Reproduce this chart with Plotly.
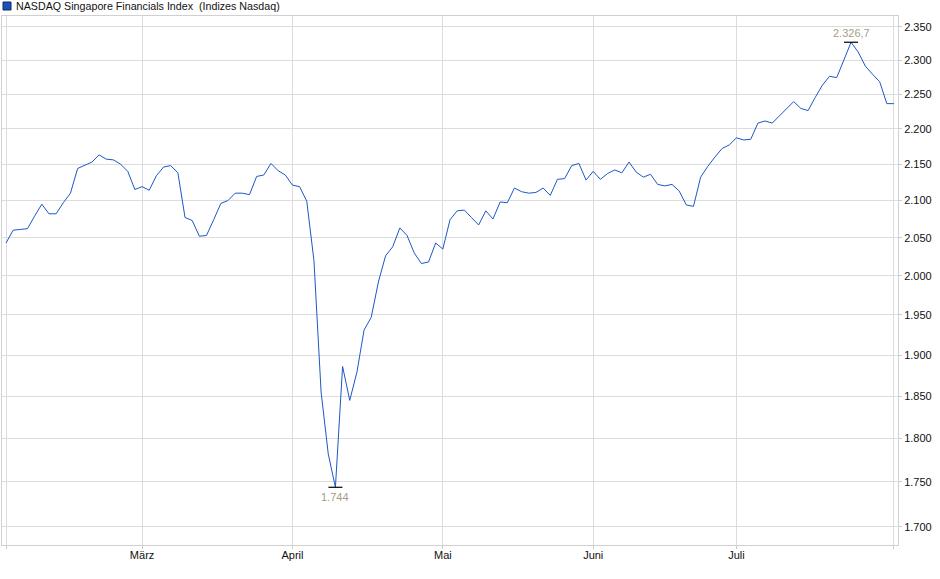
import numpy as np
import pandas as pd
import plotly.graph_objects as go

# trading days (US calendar) shown on the chart
holidays = ["2025-02-17", "2025-04-18", "2025-05-26", "2025-06-19", "2025-07-04"]
dates = pd.bdate_range("2025-02-03", "2025-08-01", freq="C", holidays=holidays)
days = [d.strftime("%Y-%m-%d") for d in dates]

close = [
    2043, 2060, 2061, 2062, 2079, 2095, 2082, 2082, 2097, 2110,
    2144, 2149, 2153, 2163, 2157, 2156, 2150, 2140, 2115, 2119,
    2114, 2134, 2146, 2148, 2138, 2077, 2073, 2052, 2053, 2074,
    2096, 2100, 2110, 2110, 2108, 2133, 2135, 2151, 2141, 2135,
    2121, 2119, 2099, 2020, 1855, 1782, 1744, 1886, 1845, 1879,
    1931, 1947, 1992, 2026, 2038, 2063, 2053, 2030, 2016, 2018,
    2043, 2035, 2074, 2086, 2087, 2077, 2067, 2086, 2075, 2098,
    2097, 2117, 2112, 2110, 2111, 2117, 2107, 2129, 2130, 2148,
    2151, 2128, 2140, 2129, 2137, 2142, 2138, 2153, 2139, 2132,
    2136, 2122, 2120, 2122, 2113, 2094, 2092, 2132, 2147, 2160,
    2172, 2177, 2187, 2184, 2185, 2208, 2211, 2208, 2218, 2228,
    2239, 2229, 2226, 2245, 2263, 2276, 2274, 2300, 2326.7, 2312,
    2291, 2279, 2268, 2236, 2236,
]

month_names = ["März", "April", "Mai", "Juni", "Juli"]
y_ticks = list(range(1700, 2351, 50))

# first trading day of each month from March on
firsts = pd.Series(days, index=dates).groupby(dates.to_period("M")).first()
month_days = list(firsts.values[1:6])

lo = int(np.argmin(close))
hi = int(np.argmax(close))

W, H = 940, 579
ml, mr, mt, mb = 2, 42, 16, 34
pw, ph = W - ml - mr, H - mt - mb

fig = go.Figure()

fig.add_trace(go.Scatter(
    x=days, y=close, mode="lines",
    line=dict(color="#1d58c4", width=1),
    name="NASDAQ Singapore Financials Index",
    hovertemplate="%{x}: %{y}<extra></extra>",
))

# min / max markers
fig.add_trace(go.Scatter(
    x=[days[lo], days[hi]], y=[close[lo], close[hi]], mode="markers",
    marker=dict(symbol="line-ew-open", size=10, color="black",
                line=dict(color="black", width=1.2)),
    hoverinfo="skip",
))

fig.add_annotation(x=days[lo], y=np.log10(close[lo]), text="1.744",
                   showarrow=False, yanchor="top", yshift=-2,
                   font=dict(size=11, color="#a89c88"))
fig.add_annotation(x=days[hi], y=np.log10(close[hi]), text="2.326,7",
                   showarrow=False, yanchor="bottom", yshift=1,
                   font=dict(size=11, color="#a89c88"))

# header: coloured square + title text
fig.add_shape(type="rect", xref="paper", yref="paper",
              x0=(3 - ml) / pw, x1=(11 - ml) / pw,
              y0=1 + (mt - 10) / ph, y1=1 + (mt - 2) / ph,
              fillcolor="#1c4fb8", line=dict(color="#0a2a6a", width=1))
fig.add_annotation(xref="paper", yref="paper", x=(14 - ml) / pw, y=1 + (mt - 6) / ph,
                   xanchor="left", yanchor="middle", showarrow=False,
                   text="NASDAQ Singapore Financials Index  (Indizes Nasdaq)",
                   font=dict(size=10.7, color="#111111"))

fig.update_layout(
    width=W, height=H,
    margin=dict(l=ml, r=mr, t=mt, b=mb),
    paper_bgcolor="white", plot_bgcolor="white",
    showlegend=False,
    separators=",.",
    font=dict(family="Liberation Sans, Arial, sans-serif", size=11, color="#111111"),
)

fig.update_xaxes(
    type="category",
    range=[-0.56, len(days) - 1 + 0.56],
    tickvals=[days[0]] + month_days + [days[-1]],
    ticktext=[""] + month_names + [""],
    ticks="outside", ticklen=3, tickcolor="#cccccc",
    ticklabelstandoff=-3,
    showgrid=True, gridcolor="#dcdcdc", gridwidth=1,
    showline=True, linecolor="#d0d0d0", mirror=True,
    zeroline=False,
    tickfont=dict(size=11, color="#111111"),
)

fig.update_yaxes(
    type="log",
    range=[np.log10(1680), np.log10(2366.6)],
    side="right",
    tickvals=y_ticks,
    tickformat=",d",
    ticks="outside", ticklen=3, tickcolor="#cccccc",
    showgrid=True, gridcolor="#dcdcdc", gridwidth=1,
    showline=True, linecolor="#d0d0d0", mirror=True,
    zeroline=False,
    tickfont=dict(size=11, color="#111111"),
)

# drop the browser's default page margin so the chart sits at 0,0
fig.write_html("out.html", config={"displayModeBar": False},
               post_script="document.body.style.margin='0';")
